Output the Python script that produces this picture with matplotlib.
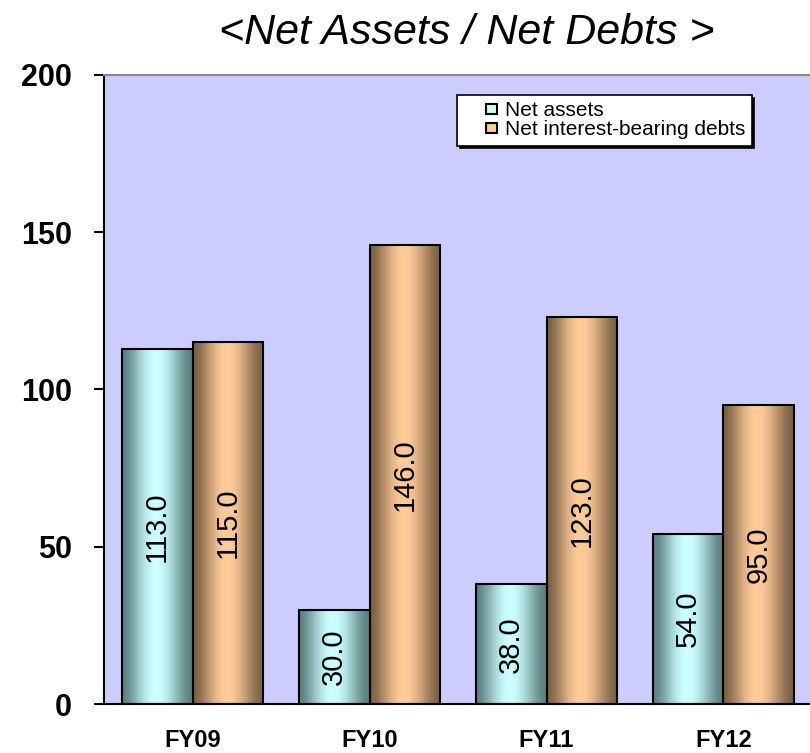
import numpy as np
import matplotlib.pyplot as plt
from matplotlib.patches import Patch, Rectangle
from matplotlib.legend_handler import HandlerPatch
from matplotlib.colors import to_rgb

plt.rcParams['font.family'] = ['Liberation Sans', 'DejaVu Sans']

years = ['FY09', 'FY10', 'FY11', 'FY12']
net_assets = [113.0, 30.0, 38.0, 54.0]
net_debts = [115.0, 146.0, 123.0, 95.0]
series_names = ['Net assets', 'Net interest-bearing debts']

# light centre colour, dark edge colour for each series
light = ['#ccffff', '#ffcc99']
dark = ['#5b8080', '#7c6045']


def gradient_image(c_light, c_dark, n=200):
    # dark at both edges, brightest near the middle
    t = np.linspace(0, 1, n)
    f = np.sin(np.pi * t ** 0.95) ** 1.7
    a = np.array(to_rgb(c_dark))
    b = np.array(to_rgb(c_light))
    row = a[None, :] + (b - a)[None, :] * f[:, None]
    return row[None, :, :]


def small_square(legend, orig_handle, xdescent, ydescent, width, height, fontsize):
    # little square sitting at the right end of the handle box
    s = height * 0.8
    return Rectangle((width - s - xdescent, (height - s) / 2 - ydescent), s, s)


fig = plt.figure(figsize=(8.1, 7.53), dpi=100)
ax = fig.add_axes([104 / 810, 49 / 753, 708 / 810, 629 / 753])
ax.set_facecolor('#ccccff')

x = np.arange(len(years))
w = 0.4
for k, vals in enumerate([net_assets, net_debts]):
    xs = x - w / 2 + k * w
    bars = ax.bar(xs, vals, width=w, facecolor='none', edgecolor='black',
                  linewidth=1.5, zorder=3)
    img = gradient_image(light[k], dark[k])
    for b, v in zip(bars, vals):
        x0 = b.get_x()
        ax.imshow(img, extent=[x0, x0 + w, 0, v], aspect='auto', zorder=2,
                  interpolation='bilinear')
        ax.text(x0 + w / 2, v / 2, f'{v:.1f}', rotation=90, ha='center',
                va='center', fontsize=21, zorder=4)

ax.set_xlim(-0.5, 3.5)
ax.set_ylim(0, 200)
ax.set_yticks([0, 50, 100, 150, 200])
ax.set_xticks(x)
ax.set_xticklabels(years, fontsize=17, fontweight='bold')
ax.tick_params(axis='x', length=0, pad=18)
ax.tick_params(axis='y', length=7, width=1.5, direction='out', pad=16,
               labelsize=22)
for lab in ax.get_yticklabels():
    lab.set_fontweight('bold')

ax.spines['top'].set_color('#888888')
ax.spines['top'].set_linewidth(1.5)
ax.spines['right'].set_visible(False)
ax.spines['left'].set_linewidth(1.5)
ax.spines['bottom'].set_linewidth(1.5)

handles = [Patch(facecolor=light[i], edgecolor='black', linewidth=1.5,
                 label=series_names[i]) for i in range(2)]
leg = fig.legend(handles=handles, loc='upper left',
                 bbox_to_anchor=(457 / 810, 1 - 95 / 753),
                 handler_map={Patch: HandlerPatch(patch_func=small_square)},
                 fontsize=15, frameon=True, fancybox=False,
                 handlelength=1.6, handleheight=0.6, handletextpad=0.4,
                 labelspacing=0.0, borderpad=0.3, borderaxespad=0,
                 shadow={'ox': 2, 'oy': -2, 'color': 'black', 'alpha': 1})
leg.get_frame().set_edgecolor('black')
leg.get_frame().set_linewidth(1.2)
leg.get_frame().set_alpha(1)

fig.text(467 / 810, 1 - 33 / 753, '<Net Assets / Net Debts >',
         fontsize=31, style='italic', ha='center', va='center')

fig.savefig('out.png', dpi=100)
